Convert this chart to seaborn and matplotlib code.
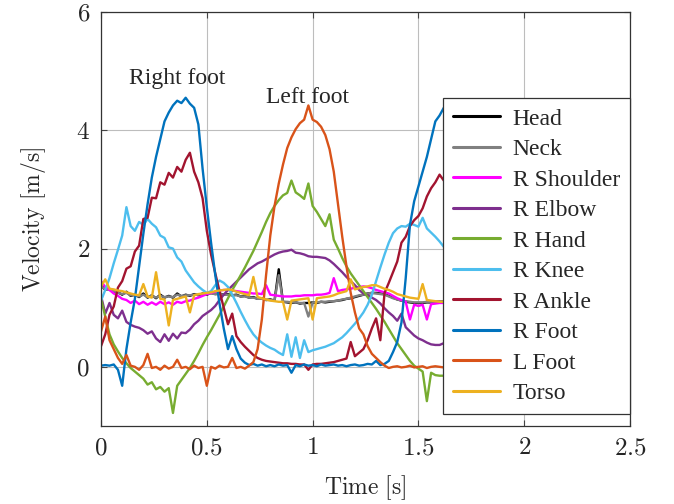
import numpy as np
import pandas as pd
import matplotlib
matplotlib.use("Agg")
import matplotlib.pyplot as plt
from matplotlib.lines import Line2D
import seaborn as sns

# Sampling instants (s), one value every 0.02 s
time = np.linspace(0, 2.5, 126)

# Velocities (m/s)
head = [1.38, 1.30, 1.32, 1.27, 1.26, 1.22, 1.27, 1.20, 1.22, 1.18,
        1.24, 1.17, 1.21, 1.16, 1.22, 1.17, 1.20, 1.17, 1.24, 1.19,
        1.22, 1.20, 1.23, 1.21, 1.24, 1.22, 1.25, 1.23, 1.24, 1.22,
        1.23, 1.21, 1.22, 1.19, 1.20, 1.17, 1.18, 1.15, 1.16, 1.13,
        1.14, 1.12, 1.65, 1.10, 1.09, 1.08, 1.09, 1.07, 1.08, 1.08,
        1.09, 1.08, 1.10, 1.09, 1.10, 1.11, 1.12, 1.13, 1.15, 1.16,
        1.18, 1.20, 1.22, 1.24, 1.25, 1.25, 1.24, 1.23, 1.20, 1.17,
        1.14, 1.12, 1.10, 1.09, 1.08, 1.08, 1.08, 1.09, 1.09, 1.10,
        1.10, 1.10, 1.11, 1.12, 1.14, 1.16, 1.18, 1.20, 1.22, 1.23,
        1.24, 1.23, 1.22, 1.20, 1.18, 1.16, 1.14, 1.12, 1.11, 1.10,
        1.09, 1.09, 1.10, 1.11, 1.12, 1.14, 1.16, 1.18, 1.20, 1.22,
        1.24, 1.25, 1.25, 1.24, 1.22, 1.20, 1.17, 1.14, 1.12, 1.10,
        1.09, 1.08, 1.08, 1.09, 1.09, 1.10]

neck = [1.36, 1.31, 1.30, 1.28, 1.25, 1.23, 1.25, 1.21, 1.21, 1.19,
        1.22, 1.18, 1.20, 1.17, 1.20, 1.18, 1.19, 1.18, 1.22, 1.20,
        1.21, 1.21, 1.22, 1.22, 1.23, 1.23, 1.24, 1.23, 1.23, 1.22,
        1.22, 1.21, 1.21, 1.19, 1.19, 1.17, 1.17, 1.15, 1.15, 1.13,
        1.13, 1.12, 1.55, 1.10, 1.10, 1.09, 1.09, 1.08, 1.08, 0.85,
        1.09, 1.09, 1.10, 1.10, 1.11, 1.11, 1.12, 1.14, 1.15, 1.17,
        1.19, 1.21, 1.22, 1.24, 1.25, 1.24, 1.23, 1.22, 1.19, 1.16,
        1.14, 1.12, 1.11, 1.10, 1.09, 1.09, 1.09, 1.10, 1.10, 1.10,
        1.11, 1.11, 1.12, 1.13, 1.15, 1.17, 1.19, 1.21, 1.22, 1.23,
        1.23, 1.22, 1.21, 1.19, 1.17, 1.15, 1.13, 1.12, 1.11, 1.10,
        1.10, 1.10, 1.11, 1.12, 1.13, 1.15, 1.17, 1.19, 1.21, 1.23,
        1.24, 1.24, 1.24, 1.23, 1.21, 1.19, 1.16, 1.14, 1.12, 1.10,
        1.10, 1.09, 1.09, 1.09, 1.10, 1.10]

r_shoulder = [1.45, 1.35, 1.30, 1.24, 1.20, 1.15, 1.13, 1.08, 1.12, 1.06,
              1.10, 1.05, 1.09, 1.05, 1.10, 1.06, 1.09, 1.05, 1.10, 1.08,
              1.11, 1.12, 1.15, 1.17, 1.20, 1.23, 1.25, 1.27, 1.29, 1.30,
              1.30, 1.29, 1.28, 1.27, 1.26, 1.25, 1.24, 1.24, 1.23, 1.38,
              1.22, 1.21, 1.20, 1.19, 1.19, 1.19, 1.20, 1.20, 1.21, 1.21,
              1.21, 1.22, 1.22, 1.23, 1.25, 1.50, 1.28, 1.30, 1.31, 1.32,
              1.34, 1.35, 1.36, 1.35, 1.33, 1.30, 1.28, 1.26, 1.24, 1.20,
              1.16, 1.13, 1.10, 0.80, 1.05, 1.03, 1.05, 0.80, 1.06, 1.07,
              1.08, 1.08, 1.09, 1.10, 1.12, 1.14, 1.16, 1.18, 1.20, 1.22,
              1.24, 1.25, 1.25, 1.24, 1.22, 1.20, 1.17, 1.14, 1.12, 1.10,
              1.08, 1.07, 1.07, 1.08, 1.09, 1.10, 1.12, 1.14, 1.16, 1.18,
              1.20, 1.22, 1.24, 1.25, 1.25, 1.23, 1.20, 1.17, 1.14, 1.12,
              1.10, 1.09, 1.09, 1.08, 1.09, 1.10]

r_elbow = [1.20, 0.90, 1.08, 0.88, 0.82, 0.95, 0.76, 0.71, 0.68, 0.66,
           0.62, 0.56, 0.60, 0.48, 0.42, 0.55, 0.44, 0.56, 0.48, 0.58,
           0.57, 0.63, 0.72, 0.78, 0.86, 0.91, 0.96, 1.03, 1.13, 1.22,
           1.30, 1.37, 1.44, 1.51, 1.58, 1.65, 1.70, 1.75, 1.78, 1.82,
           1.86, 1.90, 1.93, 1.95, 1.96, 1.98, 1.93, 1.92, 1.90, 1.87,
           1.86, 1.86, 1.85, 1.84, 1.80, 1.74, 1.67, 1.60, 1.52, 1.45,
           1.38, 1.30, 1.24, 1.21, 1.17, 1.13, 1.07, 0.99, 0.92, 0.86,
           0.78, 0.90, 0.67, 0.60, 0.53, 0.48, 0.45, 0.41, 0.38, 0.37,
           0.37, 0.40, 0.42, 0.45, 0.46, 0.52, 0.58, 0.65, 0.72, 0.80,
           0.90, 1.00, 1.10, 1.20, 1.30, 1.40, 1.48, 1.56, 1.63, 1.70,
           1.75, 1.80, 1.84, 1.88, 1.90, 1.92, 1.93, 1.93, 1.92, 1.90,
           1.88, 1.86, 1.85, 1.84, 1.80, 1.74, 1.67, 1.60, 1.52, 1.45,
           1.38, 1.31, 1.26, 1.22, 1.18, 1.15]

r_hand = [1.15, 0.85, 0.55, 0.38, 0.26, 0.15, 0.06, -0.02, -0.08, -0.14,
          -0.20, -0.30, -0.26, -0.38, -0.34, -0.42, -0.36, -0.78, -0.32, -0.22,
          -0.12, -0.02, 0.10, 0.23, 0.37, 0.50, 0.62, 0.75, 0.88, 1.02,
          1.16, 1.30, 1.42, 1.55, 1.68, 1.82, 1.96, 2.12, 2.28, 2.45,
          2.60, 2.72, 2.82, 2.90, 2.94, 3.15, 2.95, 2.90, 2.84, 3.10,
          2.72, 2.62, 2.50, 2.38, 2.58, 2.15, 2.00, 1.84, 1.70, 1.58,
          1.48, 1.38, 1.28, 1.18, 1.08, 0.98, 0.87, 0.76, 0.64, 0.52,
          0.40, 0.30, 0.20, 0.10, 0.02, -0.03, -0.08, -0.58, -0.10, -0.14,
          -0.15, -0.15, -0.18, -0.20, -0.22, -0.20, -0.15, -0.10, -0.02, 0.08,
          0.18, 0.30, 0.42, 0.55, 0.68, 0.80, 0.92, 1.05, 1.18, 1.32,
          1.46, 1.60, 1.75, 1.90, 2.05, 2.20, 2.35, 2.48, 2.60, 2.70,
          2.78, 2.82, 2.80, 2.75, 2.65, 2.52, 2.38, 2.24, 2.10, 1.96,
          1.82, 1.70, 1.58, 1.46, 1.35, 1.25]

r_knee = [1.12, 1.30, 1.50, 1.75, 1.98, 2.22, 2.70, 2.38, 2.30, 2.45,
          2.40, 2.50, 2.42, 2.36, 2.22, 2.18, 2.02, 2.00, 1.85, 1.78,
          1.63, 1.53, 1.43, 1.36, 1.30, 1.25, 1.28, 1.38, 1.46, 1.42,
          1.35, 1.22, 1.08, 0.93, 0.79, 0.66, 0.55, 0.47, 0.41, 0.36,
          0.32, 0.29, 0.24, 0.20, 0.55, 0.17, 0.50, 0.15, 0.45, 0.25,
          0.28, 0.30, 0.32, 0.34, 0.37, 0.40, 0.45, 0.50, 0.57, 0.65,
          0.73, 0.82, 0.92, 1.05, 1.22, 1.45, 1.68, 1.90, 2.10, 2.26,
          2.34, 2.38, 2.37, 2.42, 2.40, 2.37, 2.52, 2.34, 2.27, 2.20,
          2.12, 2.03, 1.94, 1.84, 1.72, 1.60, 1.50, 1.42, 1.36, 1.40,
          1.42, 1.35, 1.20, 1.05, 0.90, 0.76, 0.64, 0.54, 0.46, 0.40,
          0.36, 0.32, 0.29, 0.26, 0.25, 0.26, 0.28, 0.30, 0.32, 0.34,
          0.36, 0.38, 0.40, 0.43, 0.46, 0.50, 0.54, 0.58, 0.62, 0.66,
          0.70, 0.73, 0.76, 0.78, 0.80, 0.82]

r_ankle = [0.35, 0.55, 0.88, 1.02, 1.34, 1.45, 1.66, 1.70, 1.95, 2.05,
           2.50, 2.52, 2.86, 2.85, 3.12, 3.08, 3.28, 3.20, 3.38, 3.30,
           3.50, 3.62, 3.30, 3.12, 2.85, 2.30, 1.90, 1.58, 1.28, 1.00,
           0.72, 0.90, 0.52, 0.42, 0.34, 0.27, 0.20, 0.15, 0.12, 0.10,
           0.09, 0.08, 0.07, 0.06, 0.06, 0.05, 0.05, 0.04, 0.04, -0.05,
           0.04, 0.05, 0.05, 0.06, 0.07, 0.08, 0.10, 0.12, 0.14, 0.42,
           0.18, 0.24, 0.30, 0.45, 0.65, 0.82, 0.45, 1.25, 1.42, 1.60,
           1.78, 2.10, 2.20, 2.38, 2.48, 2.55, 2.68, 2.88, 3.02, 3.12,
           3.25, 3.15, 3.35, 3.40, 3.38, 3.20, 2.90, 2.50, 2.00, 1.55,
           1.15, 0.85, 0.62, 0.50, 0.40, 0.33, 0.27, 0.22, 0.18, 0.15,
           0.13, 0.12, 0.12, 0.11, 0.11, 0.12, 0.12, 0.13, 0.13, 0.14,
           0.14, 0.15, 0.15, 0.16, 0.16, 0.17, 0.17, 0.18, 0.18, 0.19,
           0.19, 0.20, 0.20, 0.20, 0.21, 0.21]

r_foot = [0.02, 0.03, 0.02, 0.04, -0.05, -0.32, 0.30, 0.75, 1.15, 1.70,
          2.25, 2.75, 3.20, 3.55, 3.85, 4.15, 4.30, 4.42, 4.50, 4.46,
          4.55, 4.45, 4.38, 4.10, 3.35, 2.70, 2.10, 1.55, 1.07, 0.65,
          0.30, 0.52, 0.30, 0.14, 0.07, 0.03, 0.05, 0.02, 0.04, 0.01,
          0.03, 0.01, 0.04, 0.02, 0.03, -0.10, 0.03, 0.01, 0.04, 0.02,
          0.03, 0.01, 0.04, 0.02, 0.03, 0.04, 0.02, 0.03, 0.01, 0.03,
          0.04, 0.02, 0.03, 0.05, 0.04, 0.10, 0.03, 0.05, 0.10, 0.25,
          0.42, 0.75, 1.50, 2.40, 2.80, 3.05, 3.30, 3.55, 3.85, 4.15,
          4.25, 4.38, 4.42, 4.45, 4.45, 4.38, 4.20, 3.80, 3.20, 2.50,
          1.80, 1.20, 0.70, 0.35, 0.40, 0.20, 0.10, 0.05, 0.03, 0.02,
          0.03, 0.01, 0.02, 0.03, 0.02, 0.01, 0.03, 0.02, 0.01, 0.02,
          0.03, 0.02, 0.01, 0.02, 0.03, 0.02, 0.01, 0.02, 0.03, 0.02,
          0.01, 0.02, 0.03, 0.02, 0.01, 0.02]

l_foot = [0.60, 0.85, 0.45, 0.30, 0.15, 0.05, 0.20, 0.02, 0.00, -0.05,
          0.03, 0.22, -0.02, 0.00, -0.05, 0.02, -0.03, 0.00, 0.12, -0.02,
          0.00, -0.04, 0.02, -0.02, 0.00, -0.32, 0.00, -0.03, 0.02, -0.01,
          0.00, 0.15, -0.02, 0.00, -0.03, 0.02, 0.08, 0.30, 0.80, 1.55,
          2.22, 2.72, 3.10, 3.42, 3.70, 3.88, 4.02, 4.12, 4.18, 4.42,
          4.18, 4.14, 4.06, 3.92, 3.68, 3.30, 2.75, 2.20, 1.70, 1.25,
          0.92, 0.65, 0.55, 0.35, 0.22, 0.15, 0.08, 0.02, -0.02, 0.00,
          0.01, -0.01, 0.00, 0.02, -0.01, 0.00, 0.01, -0.02, 0.00, 0.01,
          0.00, -0.01, 0.01, 0.00, -0.02, 0.01, 0.00, 0.01, -0.01, 0.00,
          0.01, 0.00, -0.01, 0.01, 0.00, 0.02, 0.00, -0.01, 0.01, 0.00,
          0.01, 0.00, 0.02, 0.10, 0.50, 1.30, 2.10, 2.70, 3.10, 3.45,
          3.70, 3.90, 4.05, 4.12, 4.15, 4.15, 4.10, 4.00, 3.85, 3.60,
          3.25, 2.90, 2.55, 2.20, 1.90, 1.60]

torso = [1.36, 1.48, 1.32, 1.31, 1.29, 1.28, 1.26, 1.24, 1.22, 1.21,
         1.40, 1.19, 1.17, 1.60, 1.15, 1.14, 0.70, 1.13, 1.15, 1.17,
         1.19, 0.92, 1.21, 1.23, 1.24, 1.25, 1.26, 1.28, 1.29, 1.30,
         1.31, 1.30, 1.27, 1.25, 1.23, 1.21, 1.52, 1.18, 1.16, 1.14,
         1.12, 1.11, 1.10, 1.10, 0.80, 1.12, 1.13, 1.14, 1.15, 1.16,
         0.80, 1.16, 1.17, 1.18, 1.19, 1.21, 1.24, 1.26, 1.28, 1.48,
         1.31, 1.33, 1.35, 1.36, 1.38, 1.38, 1.35, 1.32, 1.30, 1.27,
         1.23, 1.21, 1.19, 1.17, 1.16, 1.15, 1.40, 1.13, 1.12, 1.11,
         1.10, 1.10, 1.10, 1.11, 1.12, 1.14, 1.16, 1.19, 1.22, 1.25,
         1.27, 1.28, 1.28, 1.26, 1.24, 1.22, 1.19, 1.17, 1.15, 1.14,
         1.13, 1.12, 1.12, 1.13, 1.14, 1.16, 1.18, 1.21, 1.24, 1.27,
         1.30, 1.33, 1.35, 1.37, 1.38, 1.37, 1.35, 1.32, 1.28, 1.24,
         1.21, 1.18, 1.16, 1.14, 1.13, 1.12]

segments = ["Head", "Neck", "R Shoulder", "R Elbow", "R Hand",
            "R Knee", "R Ankle", "R Foot", "L Foot", "Torso"]
colors = ["#000000", "#808080", "#ff00ff", "#7e2f8e", "#77ac30",
          "#4dbeee", "#a2142f", "#0072bd", "#d95319", "#edb120"]
series = [head, neck, r_shoulder, r_elbow, r_hand,
          r_knee, r_ankle, r_foot, l_foot, torso]

df = pd.concat(
    [pd.DataFrame({"Time": time, "Velocity": v, "Segment": s})
     for s, v in zip(segments, series)],
    ignore_index=True,
)

sns.set_style("ticks")
plt.rcParams["font.family"] = ["Liberation Serif", "DejaVu Serif"]
plt.rcParams["mathtext.fontset"] = "cm"

fig = plt.figure(figsize=(6.74, 5.04), dpi=100)
ax = fig.add_axes([0.1499, 0.1548, 0.7848, 0.8214])

sns.lineplot(data=df, x="Time", y="Velocity", hue="Segment",
             hue_order=segments, palette=colors, estimator=None,
             sort=False, linewidth=1.7, legend=False, ax=ax)

ax.set_xlim(0, 2.5)
ax.set_ylim(-1, 6)
xt = [0, 0.5, 1, 1.5, 2, 2.5]
yt = [0, 2, 4, 6]
ax.set_xticks(xt)
ax.set_xticklabels([f"${v:g}$" for v in xt])
ax.set_yticks(yt)
ax.set_yticklabels([f"${v:g}$" for v in yt])
ax.grid(True, color="#bdbdbd", linewidth=0.8)
ax.set_axisbelow(True)
ax.tick_params(direction="in", top=True, right=True, length=4, width=0.8,
               color="#444444", labelsize=18, pad=8)
for sp in ax.spines.values():
    sp.set_color("#333333")
    sp.set_linewidth(0.9)

ax.set_xlabel(r"$\mathrm{Time\ [s]}$", fontsize=17, labelpad=10)
ax.set_ylabel(r"$\mathrm{Velocity\ [m/s]}$", fontsize=17, labelpad=20)

ax.text(0.36, 4.87, "Right foot", ha="center", va="center", fontsize=17)
ax.text(0.975, 4.56, "Left foot", ha="center", va="center", fontsize=17)

handles = [Line2D([0], [0], color=c, lw=2.2) for c in colors]
leg = ax.legend(handles, segments, loc="lower right",
                bbox_to_anchor=(1.0, 0.029), borderaxespad=0,
                frameon=True, fancybox=False, framealpha=1,
                edgecolor="#333333", fontsize=17, handlelength=2.0,
                handletextpad=0.55, labelspacing=0.38, borderpad=0.42)
leg.get_frame().set_linewidth(0.9)

fig.savefig("out.png", dpi=100)
